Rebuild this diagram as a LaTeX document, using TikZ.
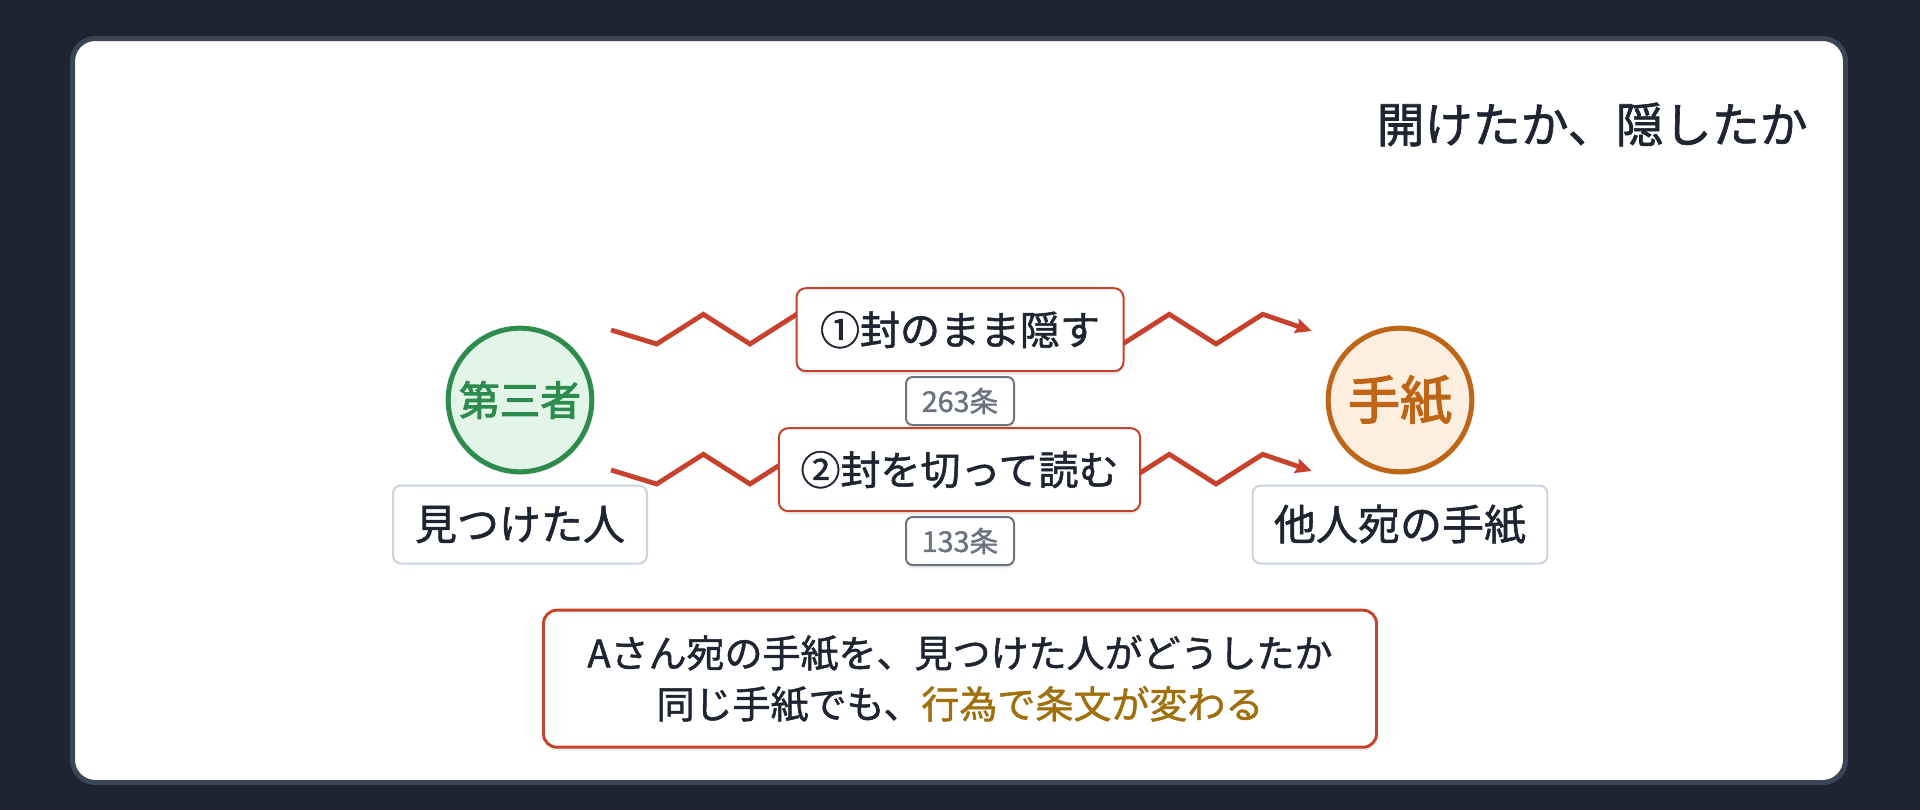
\documentclass[tikz,border=0pt]{standalone}
\usepackage{fontspec}
\setmainfont{Noto Sans CJK JP}[RawFeature={embolden=1.3}]
\newfontfamily\jpsemi{Noto Sans CJK JP}[RawFeature={embolden=2.6}]
\usetikzlibrary{arrows.meta,shadows}
\definecolor{bgdark}{HTML}{1E2530}
\definecolor{cardedge}{HTML}{3A4555}
\definecolor{ink}{HTML}{1E2530}
\definecolor{redl}{HTML}{C8412C}
\definecolor{greenc}{HTML}{2E8B4E}
\definecolor{greenf}{HTML}{E3F5E8}
\definecolor{orangec}{HTML}{BF6518}
\definecolor{orangef}{HTML}{FDEEDF}
\definecolor{labeledge}{HTML}{CBD5E1}
\definecolor{greyc}{HTML}{6B7280}
\definecolor{gold}{HTML}{A0700F}
\tikzset{
  softshadow/.style={drop shadow={shadow xshift=0pt,shadow yshift=-2.5pt,opacity=0.07,fill=black}},
  circnode/.style={circle,line width=3.75pt,minimum size=107.7pt,inner sep=0pt,softshadow},
  labelbox/.style={rectangle,rounded corners=6pt,draw=labeledge,line width=1.5pt,fill=white,
    minimum height=58.5pt,inner sep=0pt,text=ink,font=\fontsize{31.5pt}{36pt}\selectfont},
  actbox/.style={rectangle,rounded corners=7pt,draw=redl,line width=1.5pt,fill=white,
    minimum height=62.25pt,inner sep=0pt,text=ink,font=\fontsize{30pt}{34pt}\selectfont,softshadow},
  artbox/.style={rectangle,rounded corners=5pt,draw=greyc,line width=1.5pt,fill=white,
    minimum width=81pt,minimum height=36pt,inner sep=0pt,text=greyc,font=\fontsize{21.5pt}{24pt}\selectfont,softshadow},
  zz/.style={draw=redl,line width=3.6pt,-{Stealth[length=12pt,width=11pt,inset=1.5pt]}},
}
\begin{document}
\begin{tikzpicture}[x=0.75pt,y=-0.75pt]
\useasboundingbox (0,0) rectangle (1920,810);
\fill[bgdark] (0,0) rectangle (1920,810);
\draw[cardedge,line width=3.75pt,fill=white,rounded corners=17pt] (72.5,38.5) rectangle (1845.5,782.5);

\node[anchor=east,inner sep=0pt,text=ink,font=\fontsize{36pt}{40pt}\selectfont] (title) at (1808,124.5) {開けたか、隠したか};

% zigzag connectors (drawn first, boxes cover their middle)
\coordinate (s1) at (611,330);
\coordinate (t1) at (1311.7,331);
\coordinate (s2) at (611,470);
\coordinate (t2) at (1311.7,471);
\draw[zz] (s1) -- (656.7,344) -- (703.3,314.3) -- (750,344) -- (796.7,314.3) -- (960,329) -- (1122.6,344) -- (1169.3,314.3) -- (1216,344) -- (1262.7,314.3) -- (t1);
\draw[zz] (s2) -- (656.7,484) -- (703.3,454.3) -- (750,484) -- (796.7,454.3) -- (960,469) -- (1122.6,484) -- (1169.3,454.3) -- (1216,484) -- (1262.7,454.3) -- (t2);

\node[circnode,draw=greenc,fill=greenf,text=greenc,font=\jpsemi\fontsize{30.5pt}{34pt}\selectfont] (third) at (520,400) {第三者};
\node[circnode,draw=orangec,fill=orangef,text=orangec,font=\jpsemi\fontsize{39pt}{42pt}\selectfont] (letter) at (1400,400) {手紙};

\node[labelbox,minimum width=190.5pt] (finder) at (520,524.5) {見つけた人};
\node[labelbox,minimum width=221pt] (others) at (1400,524.5) {他人宛の手紙};

\node[actbox,minimum width=245.25pt] (hide) at (960,329.7) {①封のまま隠す};
\node[artbox] (a263) at (960,401) {263条};
\node[actbox,minimum width=271pt] (open) at (959.5,469.7) {②封を切って読む};
\node[artbox] (a133) at (960,541) {133条};

\node[rectangle,rounded corners=10pt,draw=redl,line width=2.2pt,fill=white,softshadow,
  minimum width=624.75pt,minimum height=102.75pt,inner sep=0pt,align=center,text=ink,
  font=\fontsize{28.5pt}{38.25pt}\selectfont] (summary) at (960,678.7)
  {Aさん宛の手紙を、見つけた人がどうしたか\\同じ手紙でも、\textcolor{gold}{行為で条文が変わる}};
\end{tikzpicture}
\end{document}
